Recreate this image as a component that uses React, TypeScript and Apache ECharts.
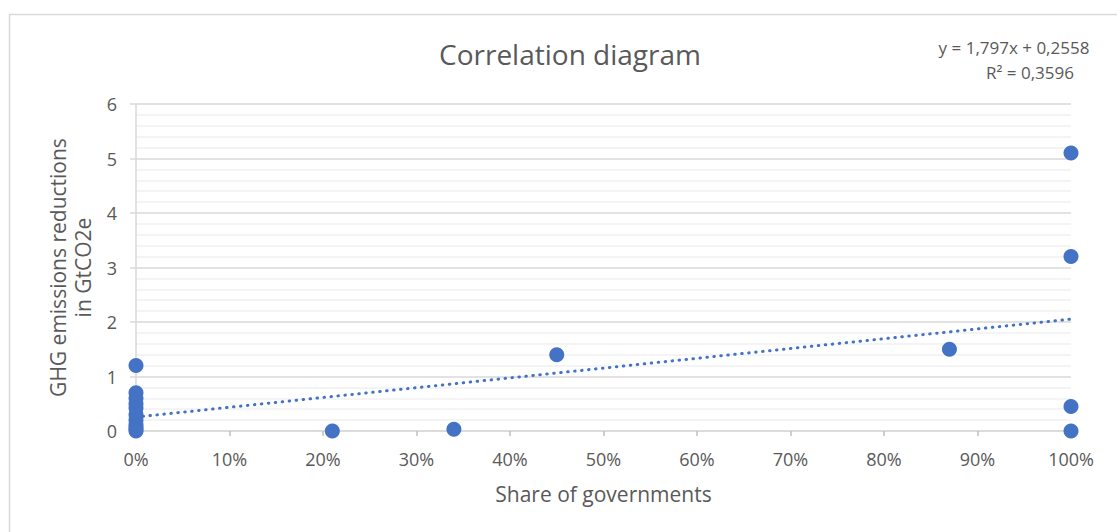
import React, { useEffect, useRef } from "react";
import * as echarts from "echarts";

const shareOfGovernments: number[] = [
  0, 0, 0, 0, 0, 0, 0, 0, 0, 0, 0,
  0.21, 0.34, 0.45, 0.87, 1.0, 1.0, 1.0, 1.0,
];
const ghgReductions: number[] = [
  1.2, 0.7, 0.6, 0.5, 0.42, 0.3, 0.2, 0.12, 0.07, 0.03, 0.0,
  0.0, 0.03, 1.4, 1.5, 5.1, 3.2, 0.45, 0.0,
];
const trendSlope = 1.797;
const trendIntercept = 0.2558;
const trendX: number[] = [0, 1];
const equationLines: string[] = ["y = 1,797x + 0,2558", "R² = 0,3596"];
const chartTitle = "Correlation diagram";
const xAxisName = "Share of governments";
const yAxisName = "GHG emissions reductions\nin GtCO2e";

const FONT = "'Open Sans', sans-serif";
const TXT = "#595959";
const BLUE = "#4472C4";

export default function App() {
  const ref = useRef<HTMLDivElement>(null);
  useEffect(() => {
    if (!ref.current) return;
    const chart = echarts.init(ref.current, undefined, { renderer: "svg" });
    const points = shareOfGovernments.map((x, i) => [x, ghgReductions[i]]);
    const trend = trendX.map((x) => [x, trendSlope * x + trendIntercept]);
    chart.setOption({
      animation: false,
      backgroundColor: "#ffffff",
      textStyle: { fontFamily: FONT },
      title: {
        text: chartTitle,
        left: 565,
        top: 35,
        textAlign: "center",
        textStyle: { color: TXT, fontSize: 28, fontWeight: "normal", fontFamily: FONT },
      },
      graphic: [
        {
          type: "rect",
          shape: { x: 9.5, y: 14.5, width: 1130, height: 540 },
          style: { fill: "none", stroke: "#d9d9d9", lineWidth: 1.5 },
          silent: true,
        },
        {
          type: "text",
          x: 1014,
          y: 47,
          style: {
            text: equationLines[0],
            fill: TXT,
            font: `17px ${FONT}`,
            align: "center",
            verticalAlign: "middle",
          },
        },
        {
          type: "text",
          x: 1030,
          y: 72,
          style: {
            text: equationLines[1],
            fill: TXT,
            font: `17px ${FONT}`,
            align: "center",
            verticalAlign: "middle",
          },
        },
      ],
      grid: { left: 136, right: 46, top: 104, bottom: 101, containLabel: false },
      xAxis: {
        type: "value",
        min: 0,
        max: 1,
        interval: 0.1,
        name: xAxisName,
        nameLocation: "middle",
        nameGap: 52,
        nameTextStyle: { color: TXT, fontSize: 21, fontFamily: FONT },
        axisLine: { show: true, lineStyle: { color: "#d9d9d9", width: 1.5 } },
        axisTick: { show: true, length: 5, lineStyle: { color: "#bfbfbf", width: 1.5 } },
        axisLabel: {
          color: TXT,
          fontSize: 18,
          margin: 19,
          formatter: (v: number) => Math.round(v * 100) + "%",
        },
        splitLine: { show: false },
      },
      yAxis: {
        type: "value",
        min: 0,
        max: 6,
        interval: 1,
        name: yAxisName,
        nameLocation: "middle",
        nameGap: 39,
        nameRotate: 90,
        nameTextStyle: { color: TXT, fontSize: 21, lineHeight: 25, fontFamily: FONT },
        axisLine: { show: true, lineStyle: { color: "#d9d9d9", width: 1.5 } },
        axisTick: { show: true, length: 6, lineStyle: { color: "#d9d9d9", width: 1.5 } },
        axisLabel: { color: TXT, fontSize: 18, margin: 19 },
        splitLine: { show: true, lineStyle: { color: "#d9d9d9", width: 1.5 } },
        minorTick: { show: false, splitNumber: 5 },
        minorSplitLine: { show: true, lineStyle: { color: "#f0f0f0", width: 1.5 } },
      },
      series: [
        {
          type: "line",
          data: trend,
          showSymbol: false,
          symbol: "none",
          lineStyle: { color: BLUE, width: 3, type: [0.5, 6.5], cap: "round" },
          z: 3,
        },
        {
          type: "scatter",
          data: points,
          symbolSize: 15,
          itemStyle: { color: BLUE, opacity: 1 },
          z: 4,
        },
      ],
    });
    return () => chart.dispose();
  }, []);
  return (
    <div
      ref={ref}
      style={{ position: "fixed", left: 0, top: 0, width: 1117, height: 532 }}
    />
  );
}
